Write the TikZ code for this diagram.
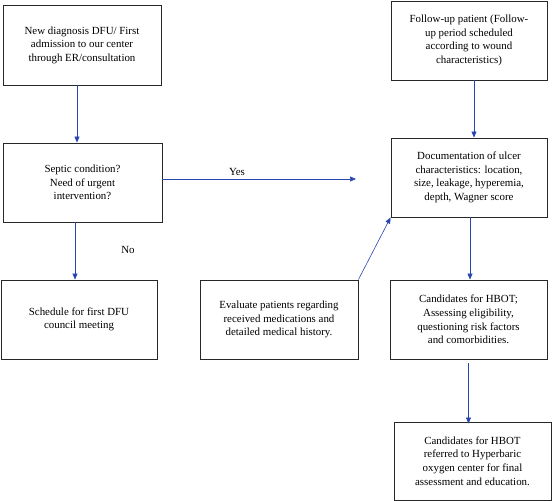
\documentclass[tikz,border=0pt]{standalone}
\usepackage{fontspec}
\setmainfont{Liberation Serif}
\usetikzlibrary{arrows.meta}
\definecolor{arrowblue}{RGB}{40,70,175}
\definecolor{boxline}{RGB}{40,40,40}
\begin{document}
\begin{tikzpicture}[x=1pt,y=-1pt,
  box/.style={draw=boxline,line width=0.9pt,rectangle,align=center,inner sep=2pt,
    font=\fontsize{10.9pt}{13.6pt}\selectfont},
  conn/.style={draw=arrowblue,line width=0.6pt,-{Triangle[length=6pt,width=5pt]}},
  lbl/.style={font=\fontsize{10.9pt}{13.6pt}\selectfont,inner sep=0pt}]
\useasboundingbox (0,0) rectangle (552,501);
\node[box,minimum width=158pt,minimum height=80pt] (a) at (82,45)
  {New diagnosis DFU/ First\\admission to our center\\through ER/consultation};
\node[box,minimum width=159pt,minimum height=79pt] (b) at (82.5,182.5)
  {Septic condition?\\Need of urgent\\intervention?};
\node[box,minimum width=156pt,minimum height=79pt] (c) at (79,319.5)
  {Schedule for first DFU\\council meeting};
\node[box,minimum width=158pt,minimum height=79pt] (e) at (279,319.5)
  {Evaluate patients regarding\\received medications and\\detailed medical history.};
\node[box,minimum width=156pt,minimum height=79pt] (f) at (469,40.5)
  {Follow-up patient (Follow-\\up period scheduled\\according to wound\\characteristics)};
\node[box,minimum width=156pt,minimum height=79pt] (d) at (469,177.5)
  {Documentation of ulcer\\characteristics: location,\\size, leakage, hyperemia,\\depth, Wagner score};
\node[box,minimum width=157pt,minimum height=79pt] (g) at (468.5,319.5)
  {Candidates for HBOT;\\Assessing eligibility,\\questioning risk factors\\and comorbidities.};
\node[box,minimum width=157pt,minimum height=78pt] (h) at (472.5,461)
  {Candidates for HBOT\\referred to Hyperbaric\\oxygen center for final\\assessment and education.};
\coordinate (yesend) at (356,179);
\node[lbl] (yes) at (237,172) {Yes};
\node[lbl] (no) at (128,250) {No};
\draw[conn] ([xshift=-5pt]a.south) -- ([xshift=-5pt]a.south |- b.north);
\draw[conn] ([xshift=-7.5pt]b.south) -- ([xshift=-7.5pt]b.south |- c.north);
\draw[conn] (b.east |- yesend) -- (yesend);
\draw[conn] ([xshift=5pt]f.south) -- ([xshift=5pt]f.south |- d.north);
\draw[conn] (e.north east) -- (d.south west);
\draw[conn] ([xshift=1pt]d.south) -- ([xshift=1pt]d.south |- g.north);
\draw[conn,shorten >=2pt] ([yshift=-4pt]g.south) -- ([yshift=-4pt]g.south |- h.north);
\end{tikzpicture}
\end{document}
